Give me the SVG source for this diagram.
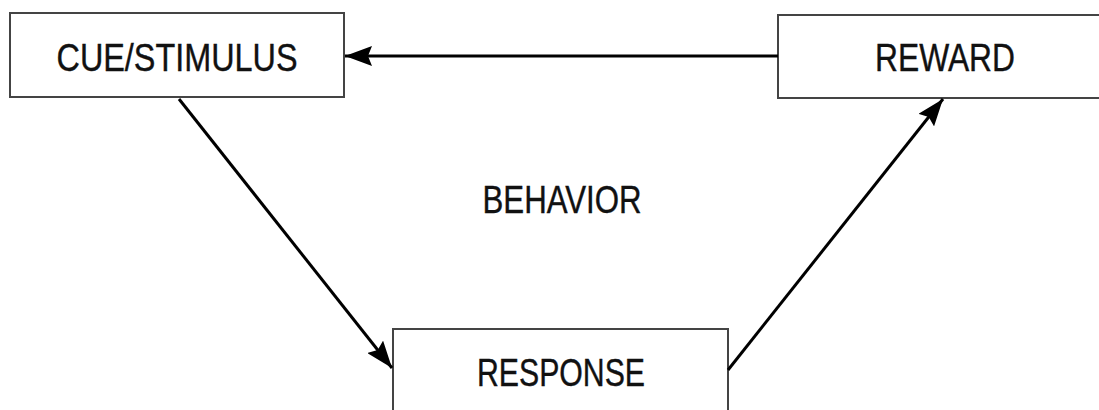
<svg xmlns="http://www.w3.org/2000/svg" width="1099" height="410" viewBox="0 0 1099 410">
<style>
.box{fill:#fff;stroke:#444;stroke-width:2}
.lbl{font-family:"Liberation Sans",Arial,sans-serif;font-size:39px;fill:#111;stroke:#111;stroke-width:0.4;text-anchor:middle}
.conn{stroke:#000;stroke-width:3;fill:none;marker-end:url(#ah)}
</style>
<defs>
<marker id="ah" viewBox="0 0 27 20" refX="27" refY="10" markerWidth="27" markerHeight="20" markerUnits="userSpaceOnUse" orient="auto">
<path d="M0,0 L27,10 L0,20 L4,10 Z" fill="#000"/>
</marker>
</defs>
<rect width="1099" height="410" fill="#fff"/>
<g id="cue">
<rect class="box" x="10" y="13" width="334" height="84"/>
<text class="lbl" x="177" y="71" textLength="241" lengthAdjust="spacingAndGlyphs">CUE/STIMULUS</text>
</g>
<g id="reward">
<rect class="box" x="778" y="15" width="340" height="83"/>
<text class="lbl" x="945" y="71" textLength="140" lengthAdjust="spacingAndGlyphs">REWARD</text>
</g>
<g id="response">
<rect class="box" x="393" y="329" width="335" height="100"/>
<text class="lbl" x="561" y="386" textLength="168" lengthAdjust="spacingAndGlyphs">RESPONSE</text>
</g>
<g id="behavior">
<text class="lbl" x="562" y="213" textLength="159" lengthAdjust="spacingAndGlyphs">BEHAVIOR</text>
</g>
<g id="connectors">
<line class="conn" x1="778" y1="56" x2="345" y2="56"/>
<line class="conn" x1="179" y1="99" x2="392" y2="368"/>
<line class="conn" x1="728" y1="370" x2="943" y2="99"/>
</g>
</svg>
